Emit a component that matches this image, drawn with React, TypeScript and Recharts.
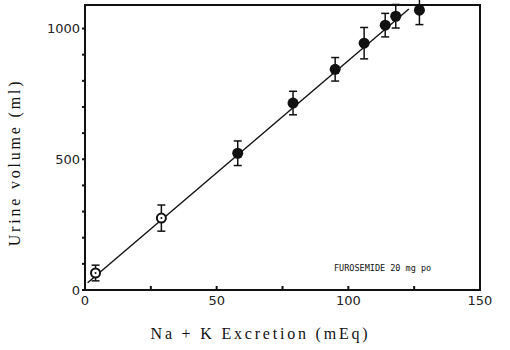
import {
  ScatterChart,
  Scatter,
  XAxis,
  YAxis,
  ErrorBar,
  ReferenceArea,
  ReferenceDot,
} from 'recharts'

// Na+K excretion (mEq) vs urine volume (ml)
const excretion = [4, 29, 58, 79, 95, 106, 114, 118, 127]
const volume = [65, 275, 523, 715, 844, 944, 1013, 1047, 1070]
const errors = [30, 50, 47, 45, 45, 60, 45, 45, 55]
const openMarker = [true, true, false, false, false, false, false, false, false]

// regression line end points
const fitX = [1, 123]
const fitY = [28, 1075]

const xTicks = [0, 25, 50, 75, 100, 125, 150]
const yTicks = [0, 100, 200, 300, 400, 500, 600, 700, 800, 900, 1000]
const xLabelled = [0, 50, 100, 150]
const yLabelled = [0, 500, 1000]

const points = excretion.map((x, i) => ({
  x,
  y: volume[i],
  err: errors[i],
  open: openMarker[i],
}))
const fitLine = fitX.map((x, i) => ({ x, y: fitY[i] }))

const tickStyle = { fontFamily: 'DejaVu Sans', fontSize: 13, fill: '#222' }
const serif = { fontFamily: 'Liberation Serif', fontSize: 16, fill: '#111', letterSpacing: 2.8 }

const Marker = (props: any) => {
  const { cx, cy, payload } = props
  if (payload.open) {
    return (
      <g>
        <circle cx={cx} cy={cy} r={4.5} fill="#fff" stroke="#111" strokeWidth={2} />
        <circle cx={cx} cy={cy} r={1} fill="#111" />
      </g>
    )
  }
  return <circle cx={cx} cy={cy} r={5.5} fill="#111" />
}

export default function App() {
  return (
    <div style={{ position: 'absolute', left: 0, top: 0, background: '#fff' }}>
      <ScatterChart width={510} height={350} margin={{ top: 5, right: 30, left: 0, bottom: 30 }}>
        <XAxis
          type="number"
          dataKey="x"
          domain={[0, 150]}
          ticks={xTicks}
          tickFormatter={(v) => (xLabelled.includes(v) ? String(v) : '')}
          tick={tickStyle}
          tickSize={-4}
          tickMargin={10}
          height={30}
          stroke="#111"
          strokeWidth={2}
          label={{ value: 'Na + K Excretion (mEq)', position: 'bottom', offset: 8, dx: -22, style: serif }}
        />
        <YAxis
          type="number"
          dataKey="y"
          domain={[0, 1090]}
          ticks={yTicks}
          tickFormatter={(v) => (yLabelled.includes(v) ? String(v) : '')}
          tick={tickStyle}
          tickSize={3}
          tickMargin={2}
          width={85}
          stroke="#111"
          strokeWidth={2}
          allowDataOverflow
          label={{
            value: 'Urine volume (ml)',
            angle: -90,
            position: 'insideLeft',
            offset: 14,
            dy: 15,
            style: { ...serif, textAnchor: 'middle' },
          }}
        />
        <ReferenceArea x1={0} x2={150} y1={0} y2={1090} fill="none" stroke="#111" strokeWidth={2} />
        <Scatter
          data={fitLine}
          line={{ stroke: '#111', strokeWidth: 1.4 }}
          shape={() => <g />}
          isAnimationActive={false}
        />
        <Scatter data={points} shape={Marker} isAnimationActive={false}>
          <ErrorBar dataKey="err" direction="y" width={4} stroke="#111" strokeWidth={1.5} />
        </Scatter>
        <ReferenceDot
          x={113}
          y={84}
          r={0}
          stroke="none"
          label={{
            value: 'FUROSEMIDE 20 mg po',
            position: 'center',
            style: { fontFamily: 'DejaVu Sans Mono', fontSize: 8.5, fill: '#111' },
          }}
        />
      </ScatterChart>
    </div>
  )
}
